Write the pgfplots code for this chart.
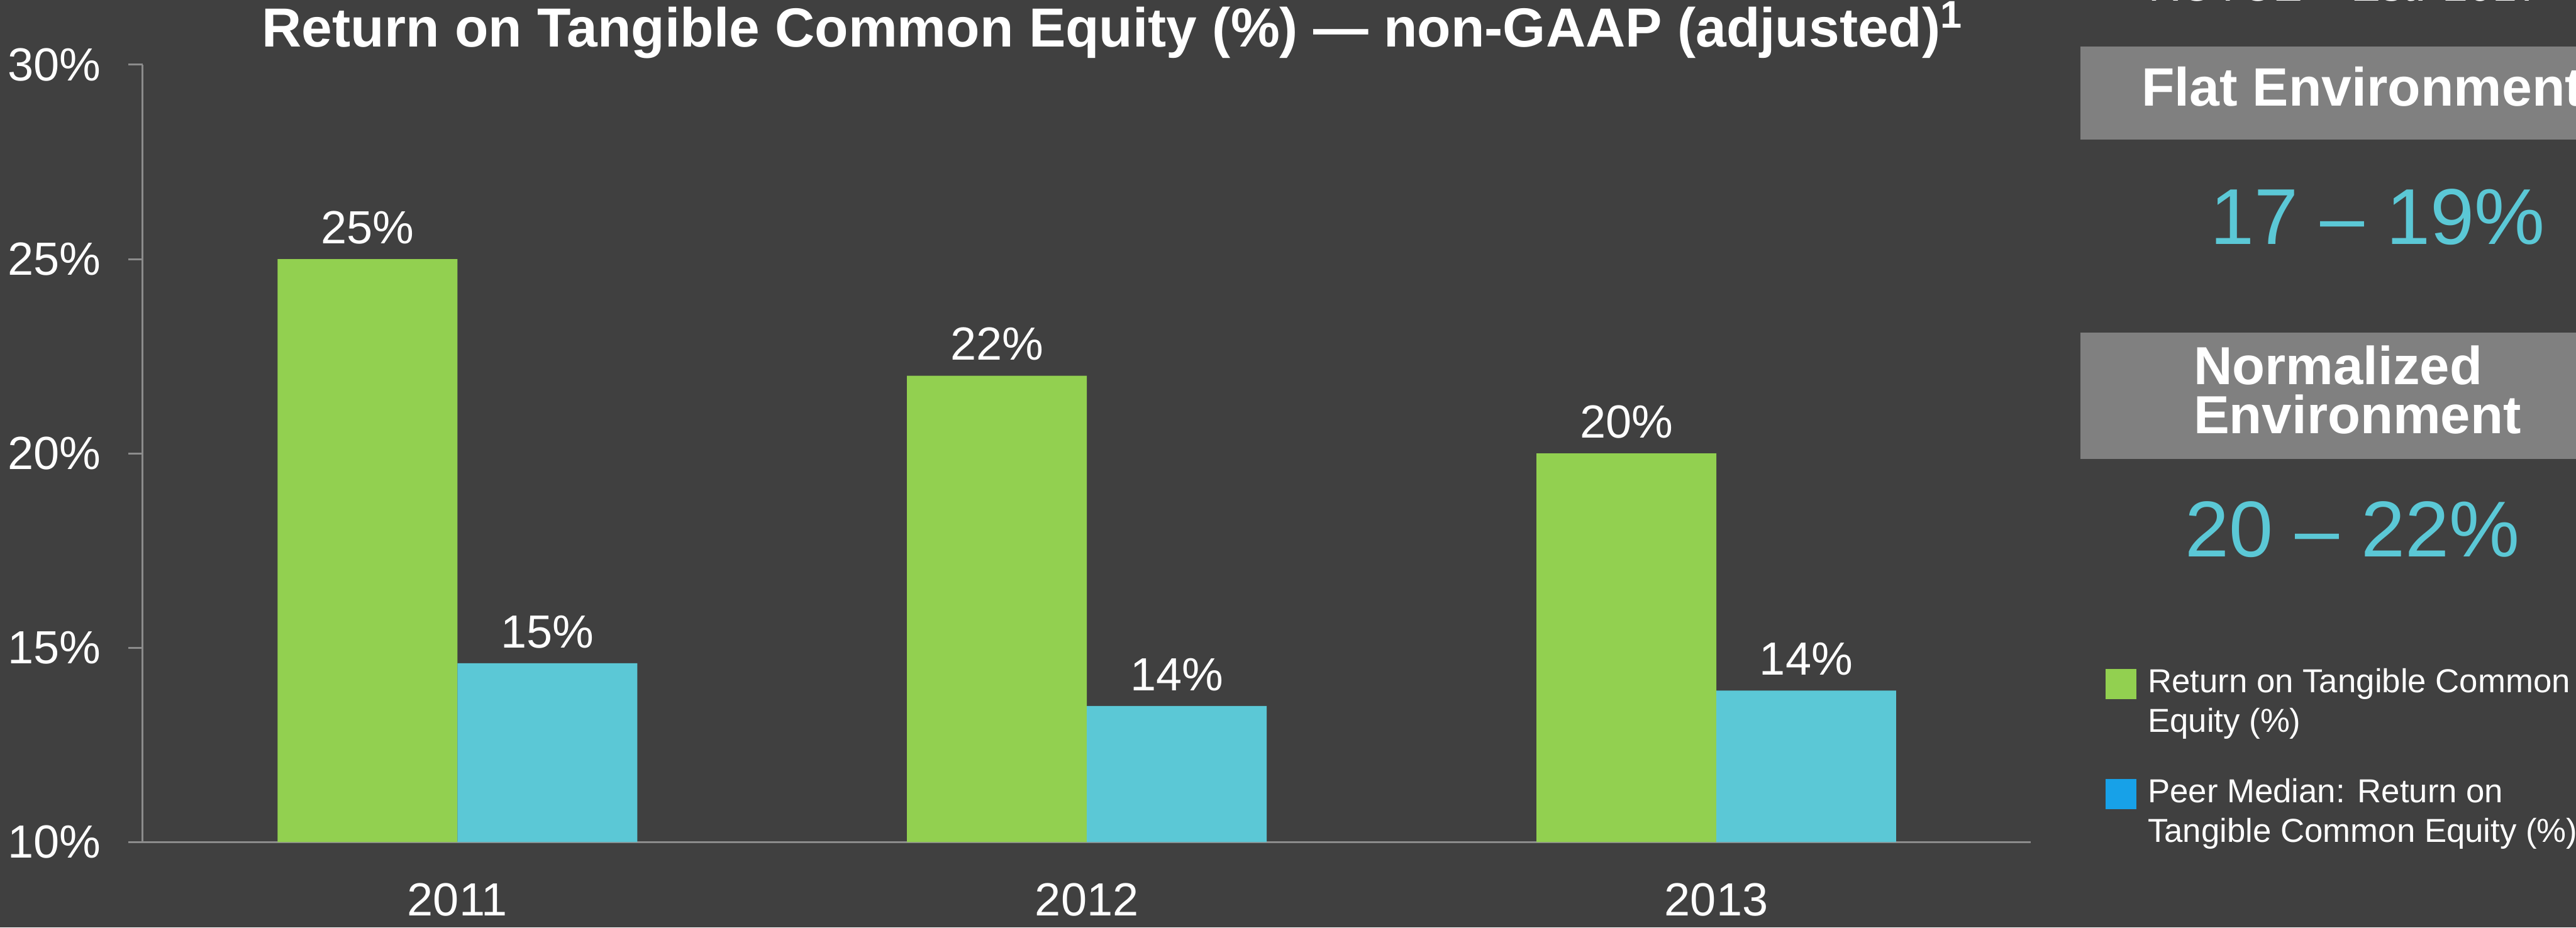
\documentclass[border=0pt]{standalone}
\usepackage{pgfplots}
\pgfplotsset{compat=1.18}
\usepackage{pgfplotstable}
\usepackage{fontspec}
\setmainfont{Liberation Sans}
\definecolor{bg}{RGB}{64,64,64}
\definecolor{grn}{RGB}{146,208,80}
\definecolor{cyn}{RGB}{91,200,214}
\definecolor{lblue}{RGB}{23,161,232}
\definecolor{boxg}{RGB}{128,128,128}
\definecolor{axg}{RGB}{140,140,140}

\pgfplotstableread{
x y m
0 25 25
1 22 22
2 20 20
}\roce
\pgfplotstableread{
x y m
0 14.6 15
1 13.5 14
2 13.9 14
}\peer

\begin{document}
\begin{tikzpicture}
\clip (0,0) rectangle (1024.5pt,-369pt);
\fill[bg] (0,0) rectangle (1024.5pt,-369pt);
\begin{axis}[
  at={(56.75pt,-335pt)}, anchor=south west,
  scale only axis, width=751pt, height=309.25pt,
  xmin=-0.5, xmax=2.5, ymin=10, ymax=30,
  axis lines*=left,
  axis line style={draw=axg, line width=0.75pt},
  ytick={10,15,20,25,30},
  yticklabels={10\%,15\%,20\%,25\%,30\%},
  xtick={0,1,2}, xticklabels={2011,2012,2013},
  x tick style={draw=none},
  y tick style={draw=axg, line width=0.75pt},
  tick align=outside, major tick length=5.75pt,
  ticklabel style={font=\fontsize{18.5pt}{22pt}\selectfont, text=white},
  yticklabel style={anchor=east, inner sep=0pt, xshift=-10.75pt},
  xticklabel style={anchor=base, inner sep=0pt, yshift=-23.5pt},
  /pgf/number format/assume math mode=true,
  ybar, bar width=0.285714,
  point meta=explicit,
  nodes near coords={\pgfmathprintnumber{\pgfplotspointmeta}\%},
  nodes near coords style={font=\fontsize{18.5pt}{22pt}\selectfont, text=white, anchor=base, inner sep=0pt, yshift=6.25pt},
]
\addplot[fill=grn, draw=none, bar shift=-0.142857] table[x=x,y=y,meta=m]{\roce};
\addplot[fill=cyn, draw=none, bar shift=0.142857] table[x=x,y=y,meta=m]{\peer};
\end{axis}
\begin{scope}[x=0.25pt,y=-0.25pt]
\node[anchor=base, inner sep=0pt, text=white, font=\fontsize{21.9pt}{25pt}\selectfont\bfseries] at (1770,75) {Return on Tangible Common Equity (\%) — non-GAAP (adjusted)\textsuperscript{1}};
\node[anchor=base west, inner sep=0pt, text=white, font=\fontsize{17.5pt}{20pt}\selectfont] at (3417,2) {ROTCE – Est. 2017};
\fill[boxg] (3310,74) rectangle (4098,222);
\node[anchor=base west, inner sep=0pt, text=white, font=\fontsize{21.5pt}{25pt}\selectfont\bfseries] at (3406,169) {Flat Environment};
\node[anchor=base, inner sep=0pt, text=cyn, font=\fontsize{31.5pt}{36pt}\selectfont] at (3782,389) {17 – 19\%};
\fill[boxg] (3310,529) rectangle (4098,730);
\node[anchor=base west, inner sep=0pt, text=white, font=\fontsize{21.3pt}{25pt}\selectfont\bfseries] at (3489,612) {Normalized};
\node[anchor=base west, inner sep=0pt, text=white, font=\fontsize{21.3pt}{25pt}\selectfont\bfseries] at (3489,690) {Environment};
\node[anchor=base, inner sep=0pt, text=cyn, font=\fontsize{31.5pt}{36pt}\selectfont] at (3742,886) {20 – 22\%};
\fill[grn] (3350,1065) rectangle (3399,1113);
\node[anchor=base west, inner sep=0pt, text=white, font=\fontsize{13.2pt}{16pt}\selectfont] at (3416,1102) {Return on Tangible Common};
\node[anchor=base west, inner sep=0pt, text=white, font=\fontsize{13.2pt}{16pt}\selectfont] at (3416,1165) {Equity (\%)};
\fill[lblue] (3350,1240) rectangle (3399,1288);
\node[anchor=base west, inner sep=0pt, text=white, font=\fontsize{13.2pt}{16pt}\selectfont] at (3416,1277) {Peer Median: Return on};
\node[anchor=base west, inner sep=0pt, text=white, font=\fontsize{13.2pt}{16pt}\selectfont] at (3416,1340) {Tangible Common Equity (\%)};
\end{scope}
\end{tikzpicture}
\end{document}
